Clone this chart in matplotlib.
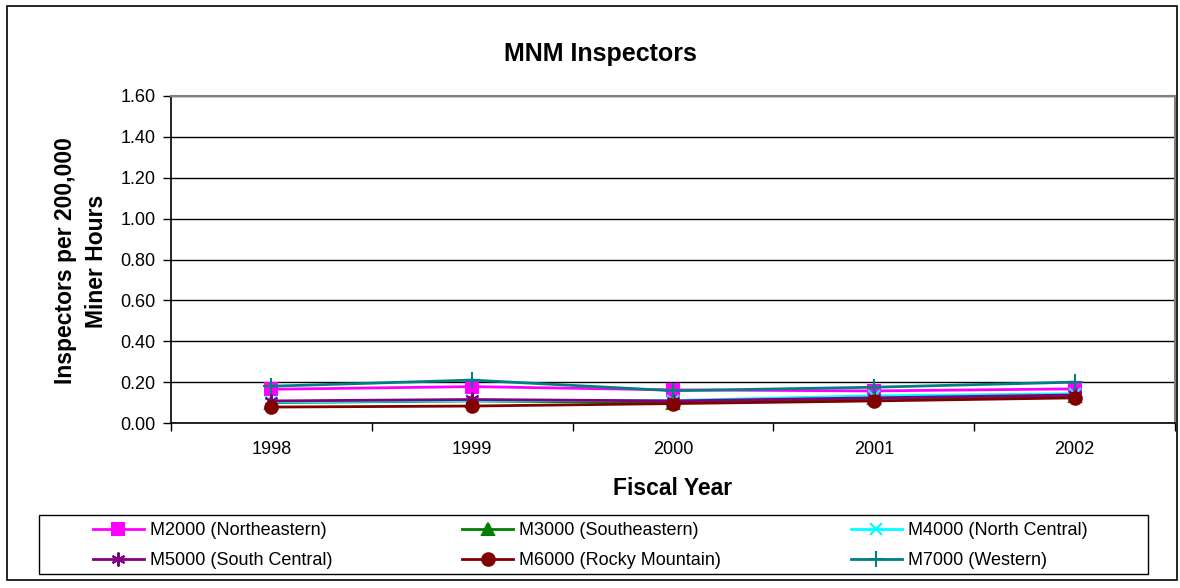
#!/usr/bin/env python3
"""MNM inspectors per 200,000 miner hours by district."""

import matplotlib

matplotlib.use("Agg")
import matplotlib.pyplot as plt
from matplotlib.patches import Rectangle

plt.rcParams["font.family"] = ["Liberation Sans", "DejaVu Sans"]

YEARS = ["1998", "1999", "2000", "2001", "2002"]
M2000 = [0.165, 0.178, 0.162, 0.157, 0.167]
M3000 = [0.100, 0.108, 0.100, 0.120, 0.130]
M4000 = [0.103, 0.110, 0.110, 0.133, 0.143]
M5000 = [0.108, 0.115, 0.108, 0.123, 0.137]
M6000 = [0.078, 0.083, 0.095, 0.108, 0.123]
M7000 = [0.180, 0.210, 0.158, 0.175, 0.200]

SERIES = [
    ("M2000 (Northeastern)", M2000, "#FF00FF", "s", 9),
    ("M3000 (Southeastern)", M3000, "#008000", "^", 9),
    ("M4000 (North Central)", M4000, "#00FFFF", "x", 9),
    ("M5000 (South Central)", M5000, "#800080", (6, 2, 0), 10),
    ("M6000 (Rocky Mountain)", M6000, "#800000", "o", 9),
    ("M7000 (Western)", M7000, "#008080", "+", 12),
]

W, H = 1180, 588


def main() -> int:
    fig = plt.figure(figsize=(W / 100, H / 100), dpi=100)
    fig.patches.append(
        Rectangle((7 / W, 8 / H), 1170 / W, 574 / H, transform=fig.transFigure,
                  fill=False, edgecolor="black", linewidth=1.2)
    )
    ax = fig.add_axes([171 / W, 1 - 423 / H, 1004 / W, 327 / H])

    x = list(range(len(YEARS)))
    handles = []
    for label, vals, color, marker, ms in SERIES:
        (line,) = ax.plot(x, vals, color=color, marker=marker, markersize=ms,
                          linewidth=2, markeredgewidth=1.5, label=label, clip_on=False)
        handles.append(line)

    ax.set_xlim(-0.5, len(YEARS) - 0.5)
    ax.set_ylim(0, 1.6)
    ax.set_yticks([i * 0.2 for i in range(9)])
    ax.set_yticklabels([f"{i * 0.2:.2f}" for i in range(9)], fontsize=13)
    ax.set_xticks(x)
    ax.set_xticklabels(YEARS, fontsize=13)
    ax.set_xticks([i - 0.5 for i in range(len(YEARS) + 1)], minor=True)
    ax.tick_params(axis="x", which="major", length=0, pad=13)
    ax.tick_params(axis="x", which="minor", length=6, direction="out", width=1)
    ax.tick_params(axis="y", length=6, direction="out", width=1, pad=5)
    ax.yaxis.grid(True, color="black", linewidth=1)
    ax.set_axisbelow(True)
    for side in ("top", "right"):
        ax.spines[side].set_color("#808080")
        ax.spines[side].set_linewidth(1.5)
    for side in ("left", "bottom"):
        ax.spines[side].set_color("black")
        ax.spines[side].set_linewidth(1.2)

    ax.set_xlabel("Fiscal Year", fontsize=16.5, fontweight="bold", labelpad=14)
    fig.text(81 / W, 1 - 261 / H, "Inspectors per 200,000\nMiner Hours", fontsize=16.5,
             fontweight="bold", rotation=90, ha="center", va="center", linespacing=1.4,
             multialignment="center")
    fig.text(600 / W, 1 - 54 / H, "MNM Inspectors", fontsize=18, fontweight="bold",
             ha="center", va="center")

    # legend box drawn separately so its size matches the original
    fig.patches.append(
        Rectangle((39 / W, 1 - 574 / H), 1109 / W, 59 / H, transform=fig.transFigure,
                  fill=False, edgecolor="black", linewidth=1)
    )
    order = [0, 3, 1, 4, 2, 5]
    fig.legend(
        [handles[i] for i in order],
        [SERIES[i][0] for i in order],
        ncol=3,
        loc="upper left",
        bbox_to_anchor=(93 / W, 1 - 522 / H),
        fontsize=13,
        frameon=False,
        handlelength=2.8,
        handletextpad=0.35,
        columnspacing=7.2,
        borderpad=0,
        borderaxespad=0,
        labelspacing=0.72,
    )

    fig.savefig("out.png", dpi=100)
    plt.close(fig)
    return 0


if __name__ == "__main__":
    raise SystemExit(main())
